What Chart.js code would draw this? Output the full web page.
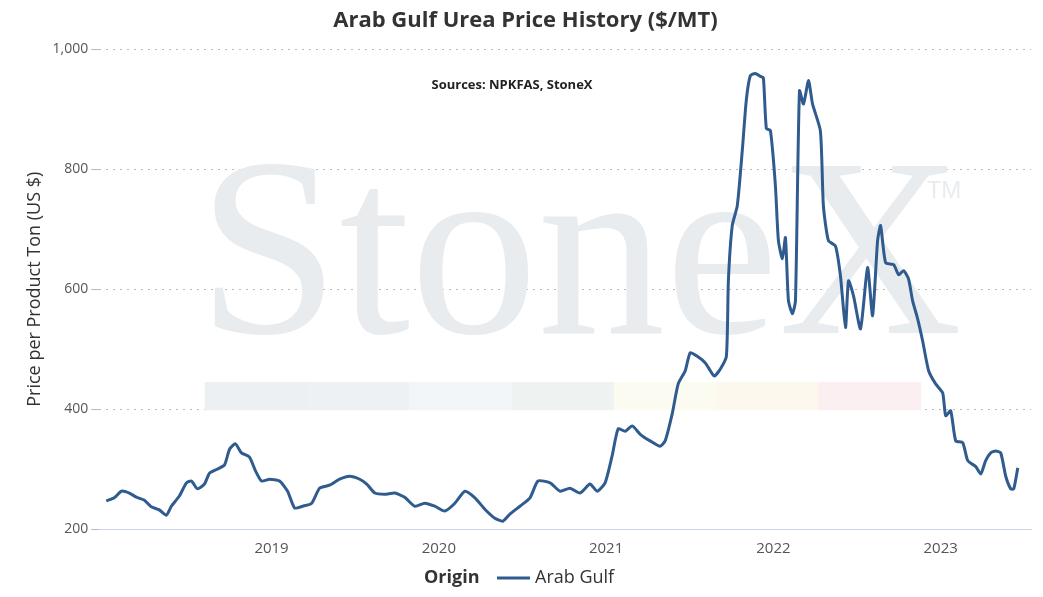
<!DOCTYPE html>
<html>
<head>
<meta charset="utf-8">
<script src="https://cdn.jsdelivr.net/npm/chart.js@4"></script>
<style>
  html, body { margin: 0; padding: 0; background: #fff; }
  #wrap { width: 1043px; height: 597px; }
</style>
</head>
<body>
<div id="wrap"><canvas id="chart"></canvas></div>
<script>
// decimal years and weekly-ish prices
const dates = [2018.012,2018.060,2018.102,2018.150,2018.192,2018.240,2018.281,2018.329,2018.371,2018.401,
  2018.449,2018.491,2018.521,2018.557,2018.599,2018.629,2018.677,2018.719,2018.749,2018.784,
  2018.820,2018.868,2018.904,2018.940,2018.988,2019.048,2019.096,2019.138,2019.186,2019.240,
  2019.287,2019.347,2019.407,2019.467,2019.527,2019.569,2019.617,2019.677,2019.737,2019.796,
  2019.856,2019.916,2019.976,2020.036,2020.096,2020.156,2020.216,2020.275,2020.335,2020.383,
  2020.425,2020.485,2020.545,2020.593,2020.665,2020.725,2020.784,2020.844,2020.904,2020.946,
  2020.994,2021.036,2021.072,2021.114,2021.156,2021.204,2021.263,2021.323,2021.353,2021.395,
  2021.431,2021.473,2021.503,2021.545,2021.593,2021.623,2021.647,2021.683,2021.719,2021.731,
  2021.754,2021.784,2021.814,2021.838,2021.862,2021.892,2021.922,2021.940,2021.958,2021.982,
  2022.012,2022.030,2022.054,2022.072,2022.090,2022.114,2022.132,2022.156,2022.180,2022.210,
  2022.234,2022.281,2022.299,2022.329,2022.371,2022.401,2022.431,2022.449,2022.479,2022.521,
  2022.563,2022.593,2022.623,2022.641,2022.671,2022.719,2022.749,2022.778,2022.808,2022.832,
  2022.862,2022.892,2022.928,2022.970,2023.012,2023.030,2023.060,2023.090,2023.132,2023.162,
  2023.210,2023.240,2023.269,2023.299,2023.329,2023.359,2023.389,2023.419,2023.437,2023.461];
const arabGulf = [247,252,263,260,253,248,237,232,223,238,
  255,277,280,267,275,293,300,307,333,342,
  327,320,297,280,283,280,263,235,238,243,
  268,273,283,288,283,275,260,258,260,253,
  238,243,238,230,243,263,252,233,218,213,
  225,238,252,280,277,263,268,260,275,263,
  277,322,367,363,372,358,347,338,347,392,
  442,464,494,488,477,464,455,467,488,614,
  706,739,831,915,956,960,955,953,868,865,
  773,681,651,686,581,559,581,931,909,948,
  909,864,739,681,672,622,536,614,589,534,
  636,556,681,706,644,641,624,631,617,581,
  551,514,464,442,427,389,397,347,344,314,
  304,292,314,327,330,327,288,267,267,302];
const yearTicks = [2019, 2020, 2021, 2022, 2023];
const bandColors = ["#edf0f3","#eef1f3","#f2f6f9","#eef3f1","#fcfbf1","#fcf8ee","#fbeff1"];

const backdrop = {
  id: "backdrop",
  beforeDatasetsDraw(chart) {
    const { ctx, scales: { x, y } } = chart;
    ctx.save();
    // colored band
    const x0 = x.getPixelForValue(2018.6), x1 = x.getPixelForValue(2022.88);
    const w = (x1 - x0) / bandColors.length;
    const yt = y.getPixelForValue(445), yb = y.getPixelForValue(398);
    bandColors.forEach((c, i) => { ctx.fillStyle = c; ctx.fillRect(x0 + i * w, yt, w + 0.5, yb - yt); });
    // watermark
    ctx.fillStyle = "#e9ecef";
    ctx.font = "255px 'Liberation Serif', serif";
    ctx.textAlign = "center";
    ctx.textBaseline = "alphabetic";
    ctx.fillText("StoneX", 580, 333);
    ctx.font = "24px 'Liberation Sans', sans-serif";
    ctx.fillText("TM", 944, 198);
    // sources note
    ctx.fillStyle = "#222";
    ctx.font = "bold 13px 'Open Sans', sans-serif";
    ctx.fillText("Sources: NPKFAS, StoneX", 512, 89);
    ctx.restore();
  },
  afterDraw(chart) {
    const { ctx } = chart;
    ctx.save();
    ctx.textBaseline = "middle";
    ctx.textAlign = "left";
    ctx.fillStyle = "#333";
    ctx.font = "bold 18px 'Open Sans', sans-serif";
    ctx.fillText("Origin", 424, 578);
    ctx.strokeStyle = "#2f5b8f";
    ctx.lineWidth = 3;
    ctx.beginPath(); ctx.moveTo(497, 578); ctx.lineTo(530, 578); ctx.stroke();
    ctx.font = "18px 'Open Sans', sans-serif";
    ctx.fillText("Arab Gulf", 535, 578);
    ctx.restore();
  }
};

new Chart(document.getElementById("chart"), {
  type: "line",
  data: {
    datasets: [{
      label: "Arab Gulf",
      data: dates.map((d, i) => ({ x: d, y: arabGulf[i] })),
      borderColor: "#2f5b8f",
      borderWidth: 3,
      pointRadius: 0,
      tension: 0.2,
      fill: false,
    }],
  },
  options: {
    responsive: true,
    maintainAspectRatio: false,
    animation: false,
    layout: { padding: { left: 20, right: 12, top: 0, bottom: 36 } },
    plugins: {
      legend: { display: false },
      tooltip: { enabled: false },
      title: {
        display: true,
        text: "Arab Gulf Urea Price History ($/MT)",
        color: "#333",
        font: { family: "'Open Sans', sans-serif", size: 22, weight: "bold" },
        padding: { top: 8, bottom: 15 },
      },
    },
    scales: {
      x: {
        type: "linear",
        min: 2017.97,
        max: 2023.54,
        afterBuildTicks: ax => { ax.ticks = yearTicks.map(v => ({ value: v })); },
        ticks: { color: "#555", font: { family: "'Open Sans', sans-serif", size: 15 }, callback: v => String(v) },
        grid: { display: false },
        border: { color: "#ccd6eb" },
      },
      y: {
        min: 200,
        max: 1000,
        ticks: { stepSize: 200, color: "#555", font: { family: "'Open Sans', sans-serif", size: 14 },
                 callback: v => v.toLocaleString("en-US") },
        grid: { color: "#bbb", lineWidth: 1 },
        border: { display: false, dash: [2, 5] },
        title: { display: true, text: "Price per Product Ton (US $)", color: "#333",
                 font: { family: "'Open Sans', sans-serif", size: 18 } },
      },
    },
  },
  plugins: [backdrop],
});
</script>
</body>
</html>
